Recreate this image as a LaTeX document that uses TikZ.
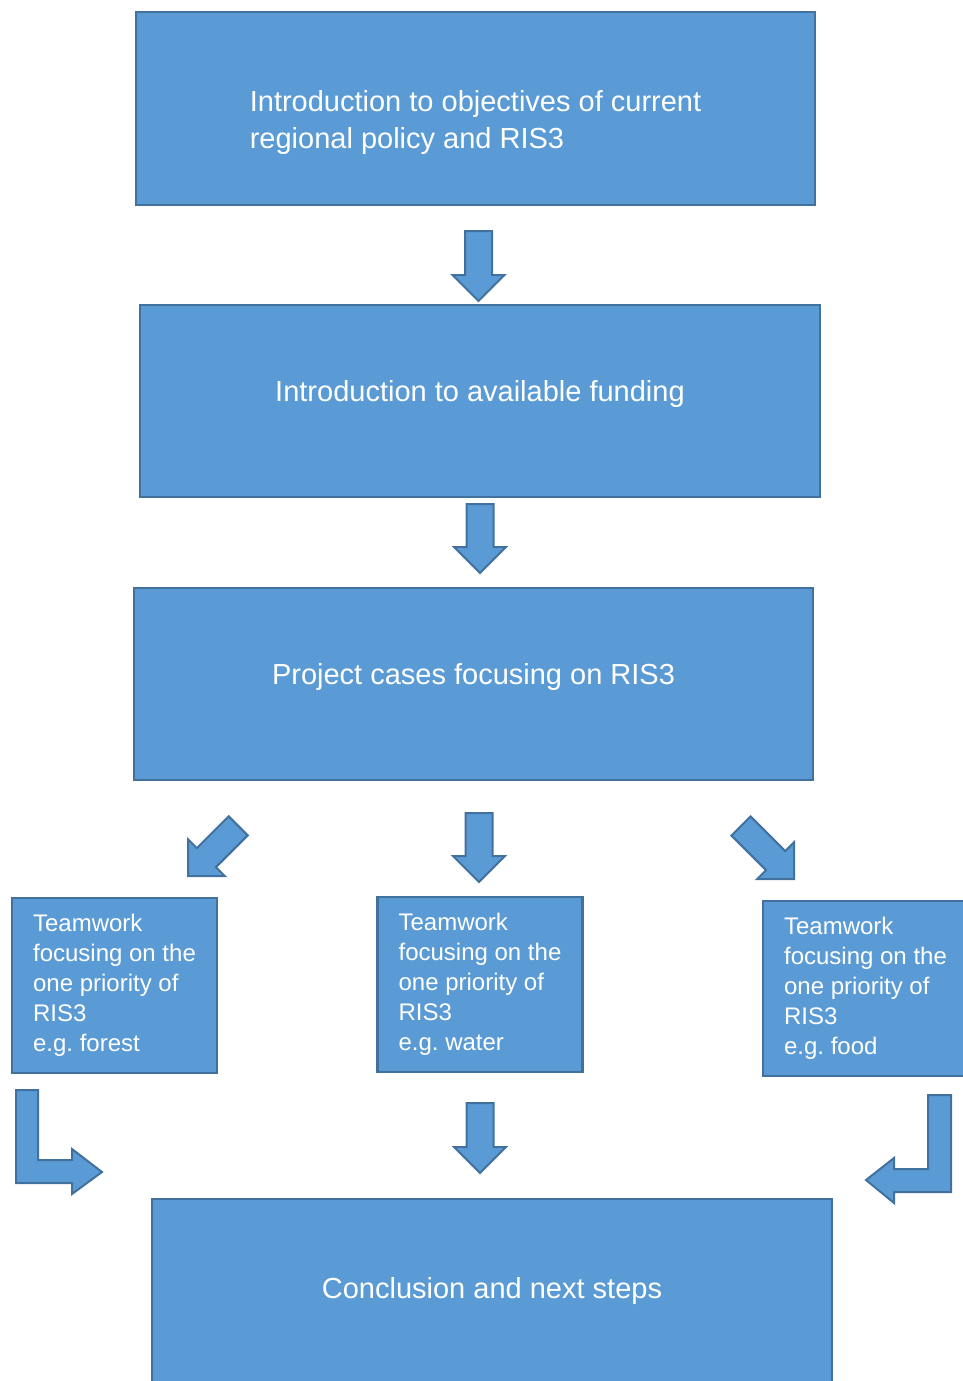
\documentclass[tikz,border=0pt]{standalone}
\usepackage{fontspec}
\setmainfont{Liberation Sans}
\frenchspacing
\usetikzlibrary{shapes.arrows}
\definecolor{boxfill}{HTML}{5B9BD5}
\definecolor{boxline}{HTML}{41719C}

\begin{document}
\begin{tikzpicture}[x=1pt,y=-1pt,
  stage/.style={draw=boxline, fill=boxfill, line width=2.2pt, text=white, align=left, inner sep=0pt,
    minimum width=679pt, minimum height=192pt, font=\fontsize{29}{37}\selectfont},
  team/.style={draw=boxline, fill=boxfill, line width=2.2pt, text=white, align=left, inner sep=0pt,
    minimum width=205pt, minimum height=175pt, font=\fontsize{24}{30}\selectfont},
  flow/.style={single arrow, draw=boxline, fill=boxfill, line width=2pt, inner sep=12.5pt, outer sep=0pt,
    single arrow head extend=12.5pt, anchor=tip},
  bent/.style={draw=boxline, fill=boxfill, line width=2pt}]
\useasboundingbox (0,0) rectangle (962,1381);

\node[stage, minimum height=193pt, text height=86pt, text depth=6pt] (objectives) at (475.5,108.5)
  {Introduction to objectives of current\\regional policy and RIS3};
\node[stage, minimum width=680pt, text height=21pt, text depth=20pt] (funding) at (480,401)
  {Introduction to available funding};
\node[stage, text height=21pt, text depth=20pt] (cases) at (473.5,684)
  {Project cases focusing on RIS3};

\node[team] (forest) at (114.5,985.5) {Teamwork\\focusing on the\\one priority of\\RIS3\\e.g. forest};
\node[team] (water) at (480,984.5) {Teamwork\\focusing on the\\one priority of\\RIS3\\e.g. water};
\node[team] (food) at (865.5,988.5) {Teamwork\\focusing on the\\one priority of\\RIS3\\e.g. food};

\node[stage, minimum width=680pt, text height=21pt, text depth=14pt] (conclusion) at (492,1295)
  {Conclusion and next steps};

\node[flow, minimum height=70pt, rotate=-90] (objtofund) at (478.5,301) {};
\node[flow, minimum height=69pt, rotate=-90] (fundtocases) at (480,573) {};
\node[flow, minimum height=69pt, rotate=-90] (casestowater) at (479,882) {};
\node[flow, minimum height=71pt, rotate=-135] (casestoforest) at (188,876) {};
\node[flow, minimum height=75pt, rotate=-45] (casestofood) at (794,879) {};
\node[flow, minimum height=70pt, rotate=-90] (watertoend) at (480,1173) {};

\draw[bent] (16,1090) -- (38,1090) -- (38,1160) -- (72,1160) -- (72,1149) -- (102,1172)
  -- (72,1194) -- (72,1183) -- (16,1183) -- cycle;
\draw[bent] (951,1095) -- (928,1095) -- (928,1169) -- (894,1169) -- (894,1158) -- (866,1180)
  -- (894,1203) -- (894,1192) -- (951,1192) -- cycle;
\end{tikzpicture}
\end{document}
